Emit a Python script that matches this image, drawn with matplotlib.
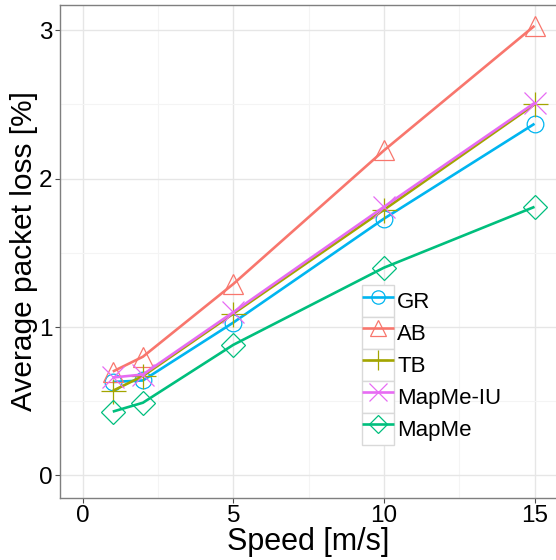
import matplotlib
matplotlib.use('Agg')
import matplotlib.pyplot as plt
from matplotlib.legend_handler import HandlerLine2D
from matplotlib.patches import Rectangle

plt.rcParams['font.family'] = ['Liberation Sans', 'DejaVu Sans']

# data
speed = [1, 2, 5, 10, 15]
series = ['GR', 'AB', 'TB', 'MapMe-IU', 'MapMe']
gr = [0.63, 0.64, 1.03, 1.73, 2.37]
ab = [0.70, 0.80, 1.29, 2.19, 3.03]
tb = [0.57, 0.67, 1.09, 1.79, 2.50]
mapme_iu = [0.66, 0.68, 1.10, 1.81, 2.51]
mapme = [0.43, 0.49, 0.88, 1.40, 1.81]

values = [gr, ab, tb, mapme_iu, mapme]
colors = ['#00B5F0', '#F8766D', '#A3A500', '#E76BF3', '#00BF7D']
markers = ['o', '^', '+', 'x', 'D']
msizes = [12, 15, 18, 16, 12]


class BoxedHandler(HandlerLine2D):
    # legend key with a grey box round it, like ggplot
    def create_artists(self, legend, orig_handle, xdescent, ydescent,
                       width, height, fontsize, trans):
        arts = super().create_artists(legend, orig_handle, xdescent, ydescent,
                                      width, height, fontsize, trans)
        box = Rectangle((-xdescent, -ydescent), width, height,
                        facecolor='white', edgecolor='#D9D9D9', lw=1.0,
                        transform=trans, zorder=0)
        return [box] + list(arts)


fig = plt.figure(figsize=(5.56, 5.6), dpi=100)
ax = fig.add_axes([0.108, 0.111, 0.894, 0.880])

for name, vals, c, m, ms in zip(series, values, colors, markers, msizes):
    ax.plot(speed, vals, color=c, lw=1.9, marker=m, markersize=ms,
            markerfacecolor='none', markeredgecolor=c, markeredgewidth=0.9,
            label=name, solid_capstyle='butt')

ax.set_xlim(-0.75, 15.75)
ax.set_ylim(-0.151, 3.17)
ax.set_xticks([0, 5, 10, 15])
ax.set_yticks([0, 1, 2, 3])
ax.set_xticks([2.5, 7.5, 12.5], minor=True)
ax.set_yticks([0.5, 1.5, 2.5], minor=True)
ax.grid(True, which='major', color='#E6E6E6', lw=1.0)
ax.grid(True, which='minor', color='#F4F4F4', lw=0.8)
ax.set_axisbelow(True)
ax.tick_params(which='major', length=3.5, width=0.8, color='#4D4D4D',
               labelsize=17.5, labelcolor='black', pad=2)
ax.tick_params(which='minor', length=0)
for s in ax.spines.values():
    s.set_color('#7F7F7F')
    s.set_linewidth(1.0)

ax.set_xlabel('Speed [m/s]', fontsize=22, labelpad=0)
ax.set_ylabel('Average packet loss [%]', fontsize=21.5)
ax.yaxis.set_label_coords(-0.044, 0.5)

leg = ax.legend(loc='upper left', bbox_to_anchor=(0.607, 0.432),
                frameon=False, fontsize=16, handlelength=1.44,
                handleheight=1.835, labelspacing=0.0, handletextpad=0.15,
                borderpad=0, borderaxespad=0, markerscale=0.8,
                handler_map={plt.Line2D: BoxedHandler(numpoints=1)})

fig.savefig('out.png', dpi=100)
